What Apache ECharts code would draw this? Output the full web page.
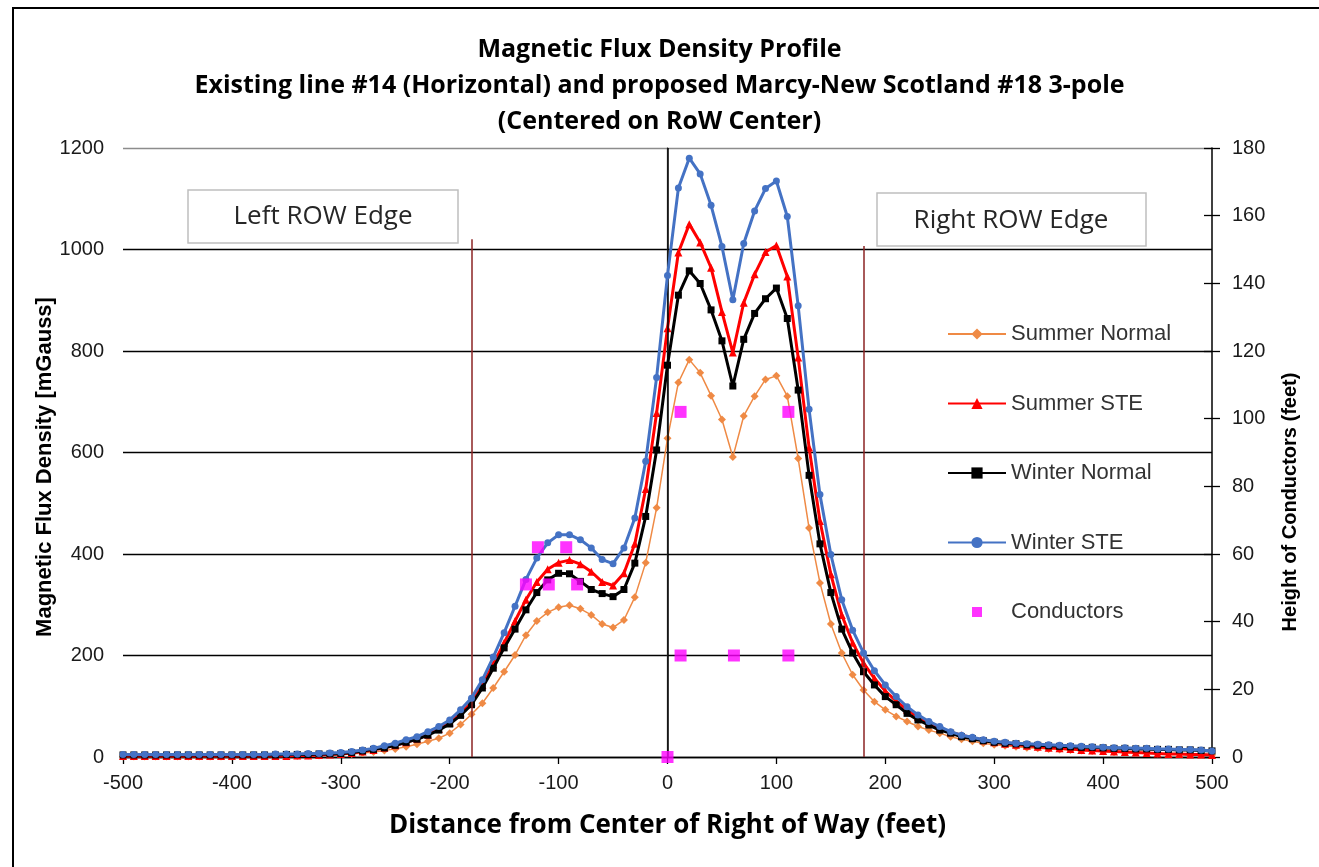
<!DOCTYPE html>
<html><head><meta charset="utf-8">
<script src="https://cdn.jsdelivr.net/npm/echarts@6/dist/echarts.min.js"></script>
<style>html,body{margin:0;padding:0;background:#fff}#c{width:1319px;height:867px}</style>
</head><body><div id="c"></div>
<script>
// Distance from centre of right of way (feet)
const distance = [-500,-490,-480,-470,-460,-450,-440,-430,-420,-410,-400,-390,-380,-370,-360,-350,-340,-330,-320,-310,
-300,-290,-280,-270,-260,-250,-240,-230,-220,-210,-200,-190,-180,-170,-160,-150,-140,-130,-120,-110,
-100,-90,-80,-70,-60,-50,-40,-30,-20,-10,0,10,20,30,40,50,60,70,80,90,
100,110,120,130,140,150,160,170,180,190,200,210,220,230,240,250,260,270,280,290,
300,310,320,330,340,350,360,370,380,390,400,410,420,430,440,450,460,470,480,490,500];

// Magnetic flux density (mG)
const summerNormal = [1,1,1,1,1,1,1,1,1,1,1,2,2,2,
2,2,2,3,3,4,5,6,8,10,13,16,20,25,31,37,47,64,84,106,136,168,201,240,268,285,295,299,292,280,262,255,270,315,383,491,
628,738,783,757,712,665,591,672,711,744,751,711,588,451,343,262,205,162,132,109,93,80,70,60,53,47,40,35,31,27,
24,22,20,18,17,16,15,14,13,12,11,10,9,9,8,7,6,6,5,4,4];
const summerSTE = [2,2,2,2,2,2,2,2,2,2,2,2,2,2,
2,2,3,3,4,5,6,8,11,14,18,23,29,36,44,55,68,86,108,142,183,225,268,310,345,370,383,388,380,365,345,338,362,420,528,678,
845,994,1050,1014,964,877,797,895,951,995,1008,947,787,610,465,360,280,225,185,155,130,110,93,79,67,57,49,43,38,33,
29,26,24,22,20,18,17,16,14,13,12,11,10,9,8,7,6,6,5,5,4];
const winterNormal = [4,4,4,4,4,4,4,4,4,4,4,4,4,4,
4,5,5,5,6,6,7,9,12,15,18,23,29,35,43,53,65,82,103,136,175,215,252,290,324,349,362,361,346,330,322,316,330,382,474,605,
772,910,958,933,881,820,731,823,874,903,924,864,723,555,420,324,252,205,168,142,119,103,86,73,63,53,47,40,36,32,
29,27,26,24,23,22,21,20,19,19,18,17,17,16,16,15,15,14,14,13,12];
const winterSTE = [5,5,5,5,5,5,5,5,5,5,5,5,5,5,
6,6,6,7,7,8,9,11,14,17,22,27,34,40,50,60,73,93,116,152,197,245,297,350,392,422,438,438,428,412,389,381,412,471,583,748,
949,1121,1180,1149,1087,1006,901,1012,1076,1120,1135,1065,889,685,517,399,310,250,205,170,142,119,99,83,70,60,50,43,39,34,
31,29,27,26,25,24,23,22,21,20,19,18,18,17,17,16,16,15,15,14,12];

// Conductor positions (feet) and heights (feet, right axis)
const conductorX = [-130,-119,-109,-93,-83,0,12,61,111,12,111];
const conductorH = [51,62,51,62,51,0,30,30,30,102,102];

// Right-of-way edges (feet)
const rowEdges = [-180, 180];

const seriesNames = ['Summer Normal','Summer STE','Winter Normal','Winter STE','Conductors'];
const titleLines = ['Magnetic Flux Density Profile',
  'Existing line #14 (Horizontal) and proposed Marcy-New Scotland #18 3-pole',
  '(Centered on RoW Center)'];

const pair = arr => distance.map((x, i) => [x, arr[i]]);
const AX = 'Liberation Sans';
const TF = 'Open Sans';
const chart = echarts.init(document.getElementById('c'));
const plain = v => String(v);

const rowColor = '#8B2323';
const option = {
  animation: false,
  backgroundColor: '#fff',
  title: {
    text: titleLines.join('\n'), left: 'center', top: 27,
    textStyle: {fontFamily: TF, fontWeight: 'bold', fontSize: 25, lineHeight: 36, color: '#000'}
  },
  grid: {left: 123, right: 107, top: 148, bottom: 110},
  xAxis: {
    type: 'value', min: -500, max: 500, interval: 100,
    name: 'Distance from Center of Right of Way (feet)', nameLocation: 'middle', nameGap: 56,
    nameTextStyle: {fontFamily: TF, fontWeight: 'bold', fontSize: 26, color: '#000'},
    axisLine: {onZero: false, lineStyle: {color: '#000', width: 1.3}},
    axisTick: {show: true, length: 7, lineStyle: {color: '#000', width: 1.3}},
    splitLine: {show: false},
    axisLabel: {fontFamily: AX, fontSize: 20, color: '#1a1a1a', margin: 16, formatter: plain}
  },
  yAxis: [
    {
      type: 'value', min: 0, max: 1200, interval: 200, position: 'left',
      axisLine: {show: true, lineStyle: {color: '#595959', width: 1.3}},
      axisTick: {show: false},
      splitLine: {show: true, lineStyle: {color: ['#000','#000','#000','#000','#000','#000','#8c8c8c'], width: 1.4}},
      axisLabel: {fontFamily: AX, fontSize: 20, color: '#1a1a1a', margin: 19, formatter: plain}
    },
    {
      type: 'value', min: 0, max: 180, interval: 20, position: 'right',
      axisLine: {show: true, lineStyle: {color: '#000', width: 1.5}},
      axisTick: {show: true, length: 8, lineStyle: {color: '#000', width: 1.3}},
      splitLine: {show: false},
      axisLabel: {fontFamily: AX, fontSize: 20, color: '#1a1a1a', margin: 20, formatter: plain}
    },
    {
      type: 'value', min: 0, max: 180, interval: 20, position: 'right',
      axisLine: {show: false},
      axisTick: {show: true, inside: true, length: 8, lineStyle: {color: '#000', width: 1.3}},
      splitLine: {show: false},
      axisLabel: {show: false}
    }
  ],
  legend: {
    orient: 'vertical', left: 942, top: 318, itemWidth: 58, itemHeight: 14, itemGap: 47.5,
    textStyle: {fontFamily: AX, fontSize: 22, color: '#333'},
    data: [
      {name: seriesNames[0]}, {name: seriesNames[1]}, {name: seriesNames[2]}, {name: seriesNames[3]},
      {name: seriesNames[4], icon: 'path://M0,0M58,14M24,2h10v10h-10Z'}
    ]
  },
  graphic: [
    {type: 'rect', z: -10, silent: true, shape: {x: 13, y: 8, width: 1330, height: 880},
     style: {fill: 'none', stroke: '#000', lineWidth: 2}},
    {type: 'rect', z: 50, shape: {x: 188, y: 190, width: 270, height: 53},
     style: {fill: '#fff', stroke: '#bfbfbf', lineWidth: 1.5}},
    {type: 'text', z: 51, x: 323, y: 217,
     style: {text: 'Left ROW Edge', font: '26px "Open Sans"', fill: '#262626', textAlign: 'center', textVerticalAlign: 'middle'}},
    {type: 'rect', z: 50, shape: {x: 877, y: 193, width: 269, height: 53},
     style: {fill: '#fff', stroke: '#bfbfbf', lineWidth: 1.5}},
    {type: 'text', z: 51, x: 1011, y: 221,
     style: {text: 'Right ROW Edge', font: '26px "Open Sans"', fill: '#262626', textAlign: 'center', textVerticalAlign: 'middle'}},
    {type: 'text', x: 45, y: 467, rotation: Math.PI / 2,
     style: {text: 'Magnetic Flux Density [mGauss]', font: 'bold 22px "Liberation Sans"', fill: '#000', textAlign: 'center', textVerticalAlign: 'middle'}},
    {type: 'text', x: 1290, y: 502, rotation: Math.PI / 2,
     style: {text: 'Height of Conductors (feet)', font: 'bold 20px "Liberation Sans"', fill: '#000', textAlign: 'center', textVerticalAlign: 'middle'}}
  ],
  series: [
    {
      name: seriesNames[0], type: 'line', data: pair(summerNormal), z: 2,
      symbol: 'diamond', symbolSize: 8, showAllSymbol: true,
      lineStyle: {color: '#EF8A45', width: 1.5}, itemStyle: {color: '#EF8A45'},
      markLine: {
        silent: true, symbol: ['none', 'none'], label: {show: false}, animation: false,
        data: [
          [{coord: [0, 0], lineStyle: {color: '#000', width: 1.5, type: 'solid'}}, {coord: [0, 1200]}],
          [{coord: [rowEdges[0], 0], lineStyle: {color: rowColor, width: 1.5, type: 'solid'}}, {coord: [rowEdges[0], 1020]}],
          [{coord: [rowEdges[1], 0], lineStyle: {color: rowColor, width: 1.5, type: 'solid'}}, {coord: [rowEdges[1], 1007]}]
        ]
      }
    },
    {
      name: seriesNames[1], type: 'line', data: pair(summerSTE), z: 3,
      symbol: 'triangle', symbolSize: 8, showAllSymbol: true,
      lineStyle: {color: '#FF0000', width: 3}, itemStyle: {color: '#FF0000'}
    },
    {
      name: seriesNames[2], type: 'line', data: pair(winterNormal), z: 4,
      symbol: 'rect', symbolSize: 7, showAllSymbol: true,
      lineStyle: {color: '#000000', width: 3}, itemStyle: {color: '#000000'}
    },
    {
      name: seriesNames[3], type: 'line', data: pair(winterSTE), z: 5,
      symbol: 'circle', symbolSize: 7, showAllSymbol: true,
      lineStyle: {color: '#4472C4', width: 3}, itemStyle: {color: '#4472C4'}
    },
    {
      name: seriesNames[4], type: 'scatter', yAxisIndex: 1, z: 6,
      data: conductorX.map((x, i) => [x, conductorH[i]]),
      symbol: 'rect', symbolSize: 12, itemStyle: {color: '#FF00FF'}
    }
  ]
};
chart.setOption(option);
</script></body></html>
